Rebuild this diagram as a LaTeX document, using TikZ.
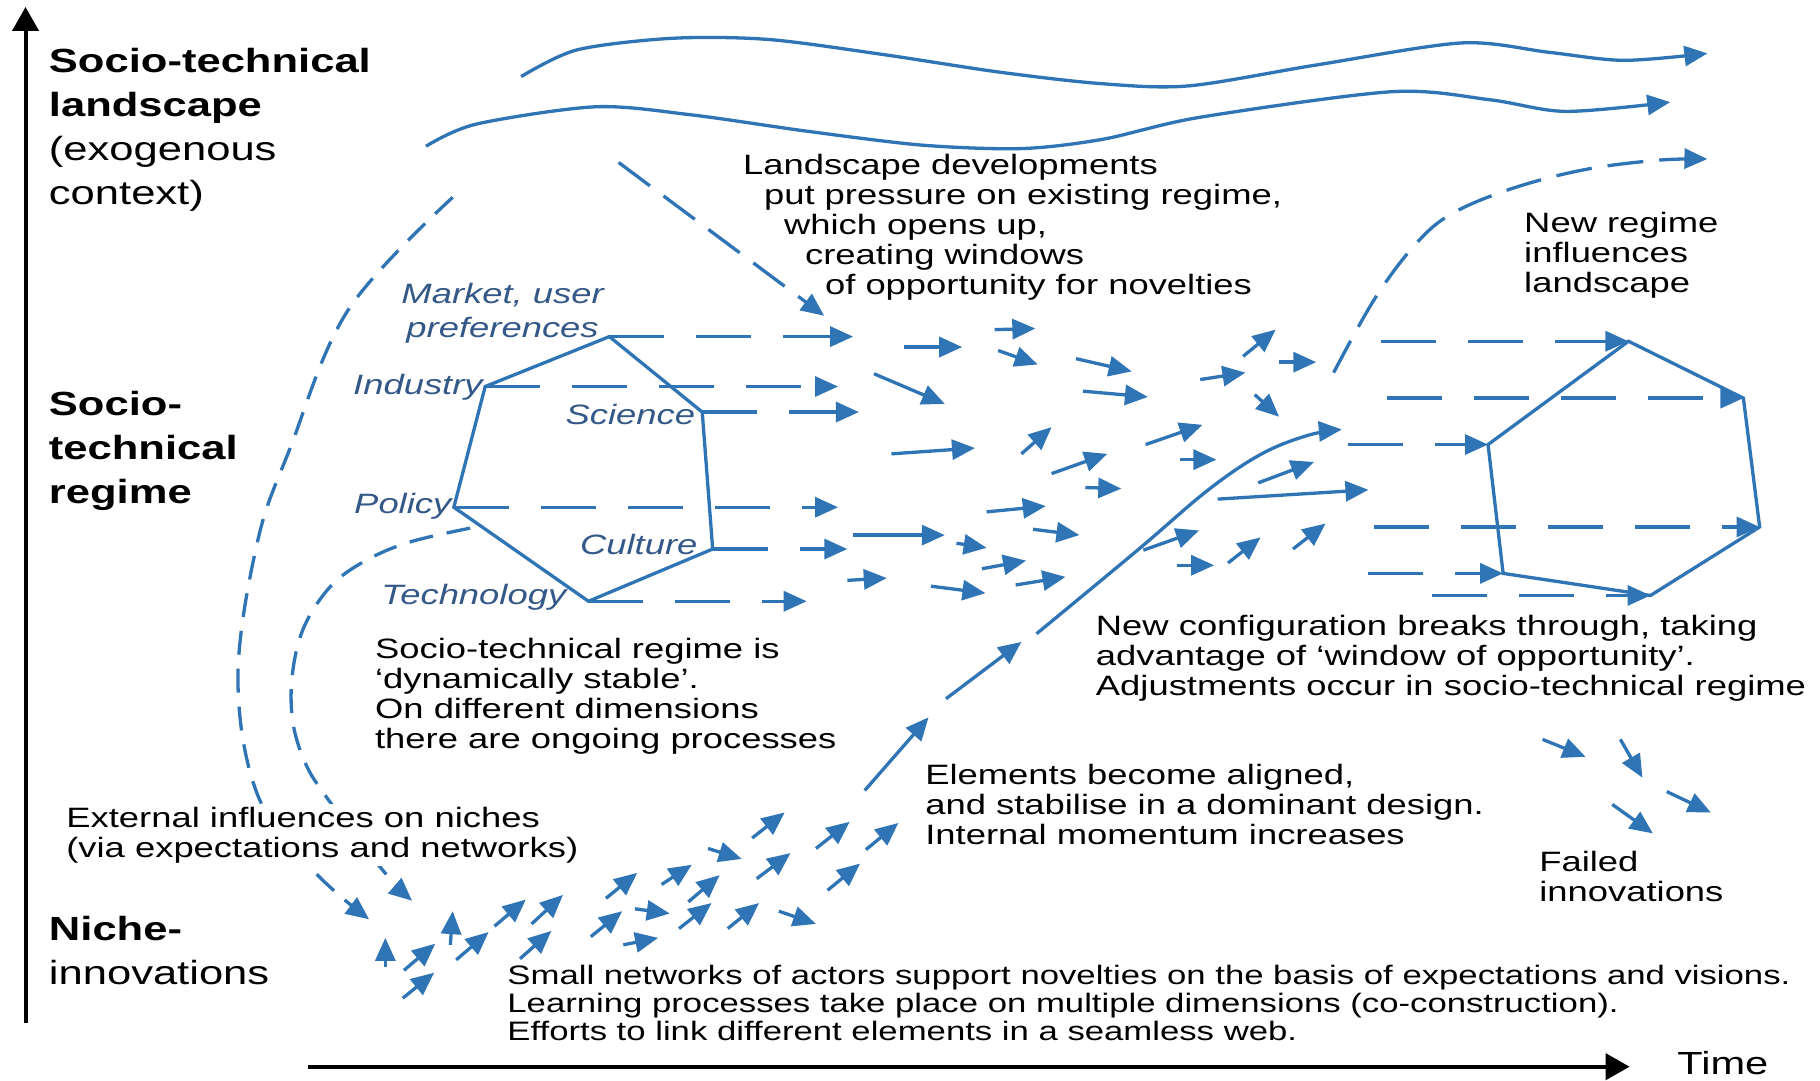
\documentclass[tikz,border=0pt]{standalone}
\usepackage{fontspec}
\setmainfont{Liberation Sans}[FakeStretch=1.3]
\usetikzlibrary{arrows.meta}
\definecolor{myblue}{RGB}{47,117,181}
\definecolor{labblue}{RGB}{52,88,135}
\begin{document}
\begin{tikzpicture}[x=1.1607pt,y=-1.1607pt,
  bl/.style={draw=myblue,line width=3.3pt},
  arr/.style={bl,-{Triangle[length=23pt,width=20pt]}},
  dsh/.style={arr,dash pattern=on 55pt off 32pt},
  cdash/.style={arr,dash pattern=on 24pt off 14pt},
  body/.style={inner sep=0pt,align=left,font=\fontsize{28pt}{30pt}\selectfont,anchor=north west},
  head/.style={inner sep=0pt,align=left,font=\fontsize{33.5pt}{44pt}\selectfont,anchor=north west},
  dim/.style={inner sep=0pt,text=labblue,font=\fontsize{28pt}{34pt}\selectfont\itshape},
  axis/.style={draw=black,line width=4pt,-{Triangle[length=24pt,width=26pt]}}
]
\fill[white] (0,0) rectangle (1568,931);
\useasboundingbox (0,0) rectangle (1568,931);

% axes
\coordinate (yb) at (22,881); \coordinate (yt) at (22,6);
\coordinate (xl) at (265,919); \coordinate (xr) at (1404,919);
\draw[axis] (yb) -- (yt);
\draw[axis] (xl) -- (xr);
\node[inner sep=0pt,anchor=base west,font=\fontsize{32pt}{32pt}\selectfont] (time) at (1445,926) {Time};

% level labels
\node[head] (land) at (42,41) {\textbf{Socio-technical}\\\textbf{landscape}\\(exogenous\\context)};
\node[head] (reg) at (42,337) {\textbf{Socio-}\\\textbf{technical}\\\textbf{regime}};
\node[head] (niche) at (42,789) {\textbf{Niche-}\\innovations};

% landscape curves
\draw[arr] plot[smooth,tension=0.5] coordinates {(449,66) (497,43) (579,33) (662,34) (761,47) (860,62) (948,72) (1024,74) (1134,56) (1259,37) (1334,45) (1399,52) (1471,46)};
\draw[arr] plot[smooth,tension=0.5] coordinates {(367,126) (410,107) (513,92) (596,99) (695,113) (794,125) (880,128) (950,120) (1034,101) (1199,79) (1284,86) (1349,96) (1439,88)};
\draw[arr,dash pattern=on 36pt off 16pt] plot[smooth,tension=0.6] coordinates {(1149,321) (1184,258) (1219,211) (1251,184) (1304,162) (1366,146) (1429,138) (1471,137)};
\draw[arr,dash pattern=on 39pt off 17pt] (533,140) -- (710,272);

% left dashed curves
\draw[cdash] plot[smooth,tension=0.6] coordinates {(390,170) (300,267) (250,386) (222,466) (205,584) (222,685) (270,750) (318,792)};
\draw[cdash] plot[smooth,tension=0.6] coordinates {(405,455) (353,467) (315,483) (285,505) (262,540) (252,580) (252,620) (262,655) (280,685) (330,750) (355,776)};

% regime hexagon
\coordinate (mk) at (525,290);
\coordinate (in) at (418,333);
\coordinate (sc) at (605,355);
\coordinate (po) at (391,437);
\coordinate (cu) at (614,473);
\coordinate (te) at (507,518);
\draw[bl] (mk) -- (sc) -- (cu) -- (te) -- (po) -- (in) -- cycle;
\coordinate (mkE) at (735,290);
\coordinate (inE) at (722,333);
\coordinate (scE) at (740,355);
\coordinate (poE) at (722,437);
\coordinate (cuE) at (730,473);
\coordinate (teE) at (695,518);
\draw[dsh] (mk) -- (mkE);
\draw[dsh] (in) -- (inE);
\draw[dsh] (sc) -- (scE);
\draw[dsh] (po) -- (poE);
\draw[dsh] (cu) -- (cuE);
\draw[dsh] (te) -- (teE);

\node[dim,anchor=base east] (industry) at (416,340) {Industry};
\node[dim,anchor=base east] (science) at (599,366) {Science};
\node[dim,anchor=base east] (policy) at (389,442) {Policy};
\node[dim,anchor=base east] (culture) at (601,478) {Culture};
\node[dim,anchor=base east] (tech) at (488,521) {Technology};
\node[dim,align=center,anchor=north] (market) at (433,244) {Market, user\\preferences};

% new regime hexagon
\coordinate (nt) at (1403,294);
\coordinate (nru) at (1502,343);
\coordinate (nl) at (1282,383);
\coordinate (nrl) at (1516,454);
\coordinate (nll) at (1295,494);
\coordinate (nb) at (1422,513);
\draw[bl] (nt) -- (nru) -- (nrl) -- (nb) -- (nll) -- (nl) -- cycle;
\coordinate (ntS) at (1190,294);
\coordinate (nruS) at (1195,343);
\coordinate (nlS) at (1161,383);
\coordinate (nrlS) at (1184,454);
\coordinate (nllS) at (1179,494);
\coordinate (nbS) at (1234,513);
\draw[dsh] (ntS) -- (nt);
\draw[dsh] (nruS) -- (nru);
\draw[dsh] (nlS) -- (nl);
\draw[dsh] (nrlS) -- (nrl);
\draw[dsh] (nllS) -- (nll);
\draw[dsh] (nbS) -- (nb);

% regime-level arrow field
\foreach \xa/\ya/\xb/\yb in {779/299/829/299, 857/284/892/283, 860/302/894/314, 753/322/814/348,
  927/309/975/320, 933/337/989/342, 768/391/840/386, 880/391/906/368, 906/408/954/391,
  935/420/966/421, 987/383/1036/366, 1017/396/1048/396, 1034/327/1073/321, 1071/307/1099/284,
  1102/312/1134/312, 1081/340/1102/359, 1084/416/1132/398, 1049/430/1179/422, 850/441/901/436,
  735/461/814/461, 890/456/930/461, 824/468/850/472, 846/490/884/483, 730/500/764/498,
  802/505/849/511, 875/504/918/497, 985/474/1033/457, 1014/487/1046/487, 1058/485/1086/463,
  1114/473/1142/451}
  \draw[arr] (\xa,\ya) -- (\xb,\yb);

% niche arrows
\foreach \xa/\ya/\xb/\yb in {332/833/332/808, 348/836/375/813, 347/860/374/838, 388/814/390/785,
  393/827/421/803, 426/798/453/775, 458/796/485/771, 448/826/475/802, 509/807/536/785,
  522/774/549/752, 547/783/577/787, 537/814/567/808, 570/762/596/745, 593/777/620/754,
  585/800/613/778, 627/800/654/778, 610/731/639/740, 648/722/676/700, 652/757/681/735,
  671/785/703/796, 703/731/732/708, 713/767/741/744, 746/732/774/709}
  \draw[arr] (\xa,\ya) -- (\xb,\yb);

% breakthrough
\draw[arr] (745,681) -- (800,618);
\draw[arr] (815,602) -- (880,553);
\draw[arr] plot[smooth,tension=0.6] coordinates {(893,546) (980,474) (1041,422) (1087,391) (1127,375) (1156,370)};

% failed innovations
\foreach \xa/\ya/\xb/\yb in {1329/637/1366/652, 1396/637/1415/670, 1436/682/1474/700, 1389/693/1424/718}
  \draw[arr] (\xa,\ya) -- (\xb,\yb);

% texts
\node[body] (landtxt) at (640,133) {Landscape developments\\\hspace*{21pt}put pressure on existing regime,\\\hspace*{41pt}which opens up,\\\hspace*{62pt}creating windows\\\hspace*{82pt}of opportunity for novelties};
\node[body] (newreg) at (1313,183) {New regime\\influences\\landscape};
\node[body] (stable) at (323,550) {Socio-technical regime is\\‘dynamically stable’.\\On different dimensions\\there are ongoing processes};
\node[body] (config) at (944,530) {New configuration breaks through, taking\\advantage of ‘window of opportunity’.\\Adjustments occur in socio-technical regime};
\node[body] (aligned) at (797,658) {Elements become aligned,\\and stabilise in a dominant design.\\Internal momentum increases};
\node[body,fill=white,inner sep=3pt] (external) at (54.4,692.4) {External influences on niches\\(via expectations and networks)};
\node[body] (failed) at (1326,733) {Failed\\innovations};
\node[body,font=\fontsize{26.7pt}{28.4pt}\selectfont] (small) at (437,831) {Small networks of actors support novelties on the basis of expectations and visions.\\Learning processes take place on multiple dimensions (co-construction).\\Efforts to link different elements in a seamless web.};
\end{tikzpicture}
\end{document}
